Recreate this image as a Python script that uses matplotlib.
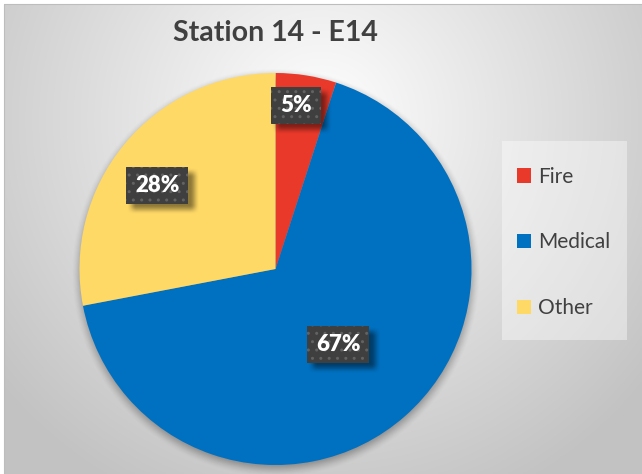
import numpy as np
import matplotlib
matplotlib.use("Agg")
import matplotlib.pyplot as plt
from matplotlib.patches import Rectangle

plt.rcParams["font.family"] = ["Lato", "DejaVu Sans"]

# ---- data ----
title = "Station 14 - E14"
categories = ["Fire", "Medical", "Other"]
percents = [5, 67, 28]
colors = ["#E8392A", "#0070C0", "#FFD966"]

# ---- layout ----
W, H = 642, 474
label_dist = [0.84, 0.50, 0.74]      # label distance from centre, in radii
label_turn = [-1.9, 1.7, -4.3]       # small angular nudge of each label, degrees
pie_cx, pie_cy_img, pie_r = 275.5, 269.0, 196.0
TEXT = "#404040"

fig = plt.figure(figsize=(W / 100, H / 100), dpi=100, facecolor="white")
ax = fig.add_axes([0, 0, 1, 1])
ax.set_xlim(0, W)
ax.set_ylim(0, H)
ax.set_axis_off()


def Y(y_img):
    return H - y_img


# chart-area background: soft radial grey gradient
yy, xx = np.mgrid[0:H, 0:W].astype(float)
t = np.sqrt(((xx - 321) / 420.0) ** 2 + ((yy - 120) / 420.0) ** 2)
t = np.clip(t, 0, 1)
shade = 1.0 - t * (61 / 255.0)
bg = np.dstack([shade, shade, shade, np.ones_like(shade)])
bg[:4, :, :3] = 1.0
bg[:, :4, :3] = 1.0
ax.imshow(bg, extent=(0, W, 0, H), origin="upper", zorder=0, interpolation="bilinear")
ax.plot([4, 4, W], [0, Y(4), Y(4)], color="#bdbdbd", lw=0.8, zorder=1)


def smoothstep(v):
    v = np.clip(v, 0, 1)
    return v * v * (3 - 2 * v)


# soft shadow under the pie
dist = np.sqrt((xx - pie_cx) ** 2 + (yy - (pie_cy_img + 3)) ** 2)
blur = 9.0
a = 0.38 * smoothstep((pie_r + blur - dist) / (2 * blur))
shadow = np.zeros((H, W, 4))
shadow[..., 3] = a
ax.imshow(shadow, extent=(0, W, 0, H), origin="upper", zorder=2, interpolation="bilinear")

wedges, _ = ax.pie(percents, colors=colors, startangle=90, counterclock=False,
                   center=(pie_cx, Y(pie_cy_img)), radius=pie_r,
                   wedgeprops=dict(linewidth=0), frame=True)
for w in wedges:
    w.set_zorder(3)
ax.set_xlim(0, W)
ax.set_ylim(0, H)
ax.set_aspect("auto")
ax.set_axis_off()

# title
ax.text(pie_cx, Y(33), title, ha="center", va="center", fontsize=20.5,
        fontweight="bold", color=TEXT, zorder=5)

# data labels in dark dotted boxes
renderer = fig.canvas.get_renderer()
total = float(sum(percents))
cum = 0.0
for val, d, turn in zip(percents, label_dist, label_turn):
    mid = (cum + val / 2.0) / total
    cum += val
    ang = np.deg2rad(90 - 360 * mid - turn)
    lx = pie_cx + d * pie_r * np.cos(ang)
    ly = Y(pie_cy_img) + d * pie_r * np.sin(ang)
    txt = ax.text(lx, ly, f"{val}%", ha="center", va="center", fontsize=16,
                  fontweight="heavy", color="white", zorder=9)
    bb = txt.get_window_extent(renderer)
    bw = bb.width + 18
    bh = 37
    x0, y0 = lx - bw / 2, ly - bh / 2
    # blurred drop shadow
    pad = 12
    sh_img = np.zeros((int(bh + 2 * pad), int(bw + 2 * pad), 4))
    gy, gx = np.mgrid[0:sh_img.shape[0], 0:sh_img.shape[1]].astype(float)
    sb = 5.0
    inx = np.minimum(gx - pad, (bw + pad) - gx)
    iny = np.minimum(gy - pad, (bh + pad) - gy)
    sh_img[..., 3] = 0.45 * smoothstep((inx + sb) / (2 * sb)) * smoothstep((iny + sb) / (2 * sb))
    ax.imshow(sh_img, extent=(x0 - pad + 5, x0 + bw + pad + 5, y0 - pad - 5, y0 + bh + pad - 5),
              origin="upper", zorder=6, interpolation="bilinear")
    ax.add_patch(Rectangle((x0, y0), bw, bh, facecolor="#3f3f3f", edgecolor="none", zorder=7))
    ax.add_patch(Rectangle((x0, y0), bw, bh, facecolor="none", edgecolor="#626262",
                           linewidth=0, hatch="..", zorder=8))

# legend panel
ax.add_patch(Rectangle((502, Y(340)), 125, 199, facecolor="white", alpha=0.4,
                       edgecolor="none", zorder=4))
leg = ax.legend(wedges, categories, loc="center left",
                bbox_to_anchor=(517, Y(242.5)), bbox_transform=ax.transData,
                frameon=False, fontsize=15, labelspacing=2.2,
                handlelength=0.68, handleheight=0.68, handletextpad=0.35,
                borderpad=0, borderaxespad=0)
for t_ in leg.get_texts():
    t_.set_color(TEXT)
leg.set_zorder(10)

fig.savefig("out.png", dpi=100, facecolor="white")
